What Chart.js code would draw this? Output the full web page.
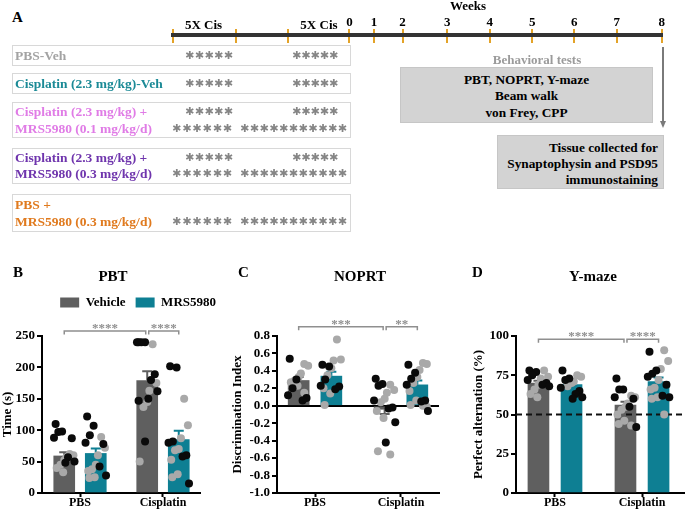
<!DOCTYPE html>
<html>
<head>
<meta charset="utf-8">
<script src="https://cdn.jsdelivr.net/npm/chart.js@4.4.0/dist/chart.umd.min.js"></script>
<style>
  html, body { margin: 0; padding: 0; background: #fff; }
  body { position: relative; width: 685px; height: 517px; overflow: hidden;
         font-family: 'Liberation Serif', 'Times New Roman', serif; font-weight: bold; color: #000; }
  .t { position: absolute; white-space: nowrap; height: 20px; line-height: 20px; font-size: 13.5px; z-index: 2; }
  .c { text-align: center; }
  .box { position: absolute; left: 12px; width: 339px; box-sizing: border-box; border: 1.5px solid #d8d8d8; }
  .stars { position: absolute; display: flex; justify-content: space-between; height: 20px; line-height: 20px;
           font-family: 'DejaVu Sans', sans-serif; font-size: 11px; color: #858585; font-weight: bold; }
  .grey { position: absolute; background: #d3d3d3; border: 1px solid #c6c6c6; box-sizing: border-box;
          font-size: 13.3px; white-space: nowrap; }
  canvas { position: absolute; }
</style>
</head>
<body>

<!-- Panel A: schematic -->
<div class="t" style="left:12px;top:7px;font-size:15px">A</div>
<div class="t c" style="left:418px;top:-4px;width:100px;font-size:13px">Weeks</div>
<canvas id="timeline" width="525" height="48" style="left:160px;top:0px"></canvas>

<div class="box" style="top:45px;height:21px"></div>
<div class="box" style="top:73px;height:21px"></div>
<div class="box" style="top:102px;height:36px"></div>
<div class="box" style="top:148px;height:36px"></div>
<div class="box" style="top:194px;height:38px"></div>

<div class="t" style="left:15px;top:45.5px;color:#a3a3a3">PBS-Veh</div>
<div class="t" style="left:15px;top:73.5px;color:#1b8a96">Cisplatin (2.3 mg/kg)-Veh</div>
<div class="t" style="left:15px;top:102px;color:#e07ce6">Cisplatin (2.3 mg/kg) +</div>
<div class="t" style="left:15px;top:119px;color:#e07ce6">MRS5980 (0.1 mg/kg/d)</div>
<div class="t" style="left:15px;top:148px;color:#6f35ad">Cisplatin (2.3 mg/kg) +</div>
<div class="t" style="left:15px;top:164px;color:#6f35ad">MRS5980 (0.3 mg/kg/d)</div>
<div class="t" style="left:15px;top:195px;color:#e07a1e">PBS +</div>
<div class="t" style="left:15px;top:212px;color:#e07a1e">MRS5980 (0.3 mg/kg/d)</div>

<div id="starRows"></div>

<div class="t c" style="left:487px;top:50px;width:100px;font-size:13px;color:#9b9b9b">Behavioral tests</div>
<div class="grey" style="left:400px;top:67px;width:253px;height:56px;text-align:center;line-height:16.5px;padding-top:3.5px">
  PBT, NOPRT, Y-maze<br>Beam walk<br>von Frey, CPP
</div>
<div class="grey" style="left:497px;top:135px;width:167px;height:54px;text-align:right;line-height:16px;padding-top:4px;padding-right:5px">
  Tissue collected for<br>Synaptophysin and PSD95<br>immunostaining
</div>
<div style="position:absolute;left:662px;top:47px;width:2px;height:75px;background:#7a7a7a"></div>
<div style="position:absolute;left:659.5px;top:121px;width:0;height:0;border-left:3.5px solid transparent;border-right:3.5px solid transparent;border-top:7px solid #7a7a7a"></div>

<!-- Panels B, C, D -->
<div class="t" style="left:13px;top:262px;font-size:15px">B</div>
<div class="t" style="left:238px;top:262px;font-size:15px">C</div>
<div class="t" style="left:472px;top:262px;font-size:15px">D</div>
<canvas id="pbt" width="226" height="267" style="left:0px;top:250px"></canvas>
<canvas id="noprt" width="260" height="267" style="left:230px;top:250px"></canvas>
<canvas id="ymaze" width="244" height="267" style="left:471px;top:250px"></canvas>

<script>
// ---- data ----
const groups = ['PBS', 'Cisplatin'];
const series = ['Vehicle', 'MRS5980'];

// timeline (schematic positions along the top axis)
const cisEdges = [-4.12, -2.65, -1.43];
const cisLabel = '5X Cis';
const cisLabelAt = [-3.40, -0.71];
const weekLabels = ['0', '1', '2', '3', '4', '5', '6', '7', '8'];
const weekAt = [0, 0.57, 1.24, 2.28, 3.27, 4.26, 5.24, 6.23, 7.28];

// PBT (time, s); point cells: PBS+Veh, PBS+MRS, Cis+Veh, Cis+MRS
const pbtVehicleMean = [59, 179];
const pbtVehicleSem = [6, 15];
const pbtMrsMean = [63, 85];
const pbtMrsSem = [8, 14];
const pbtBlack = [
  [110, 98, 97, 88, 87, 57, 50, 48],
  [122, 107, 92, 80, 78, 42, 28],
  [240, 240, 240, 240, 189, 180, 162, 150, 147, 82],
  [202, 200, 82, 80, 60, 58, 15]
];
const pbtGray = [
  [62, 60, 57, 52, 45, 40, 33],
  [89, 72, 60, 45, 38, 35, 25, 24],
  [237, 175, 163, 145, 137, 50],
  [150, 108, 87, 70, 68, 53, 30, 25]
];
const pbtStars = ['****', '****'];

// NOPRT (discrimination index)
const noprtVehicleMean = [0.29, -0.04];
const noprtVehicleSem = [0.04, 0.055];
const noprtMrsMean = [0.34, 0.24];
const noprtMrsSem = [0.05, 0.05];
const noprtBlack = [
  [0.54, 0.30, 0.20, 0.12, 0.09, 0.06],
  [0.47, 0.45, 0.30, 0.23, 0.22, 0.19],
  [0.31, 0.25, 0.23, 0.06, -0.02, -0.03, -0.19, -0.42],
  [0.47, 0.38, 0.31, 0.24, 0.06, 0.05, -0.06]
];
const noprtGray = [
  [0.48, 0.46, 0.37, 0.33, 0.29, 0.27, 0.23, 0.20, 0.15],
  [0.76, 0.53, 0.52, 0.43, 0.35, 0.20, 0.14, 0.01],
  [0.24, 0.18, 0.15, 0.08, 0.04, -0.06, -0.14, -0.52, -0.56],
  [0.49, 0.48, 0.41, 0.33, 0.26, 0.17, 0.06, 0.01, 0.0, -0.01]
];
const noprtStars = ['***', '**'];

// Y-maze (perfect alternation, %)
const ymazeVehicleMean = [70, 56];
const ymazeVehicleSem = [1.5, 2.2];
const ymazeMrsMean = [69, 71];
const ymazeMrsSem = [1.6, 2.6];
const ymazeChance = 50;
const ymazeBlack = [
  [78, 77, 75, 72, 70, 69, 68],
  [78, 73, 72, 67, 65, 63, 61, 60],
  [73, 66, 66, 61, 60, 55, 42],
  [90, 78, 76, 74, 69, 62, 61]
];
const ymazeGray = [
  [78, 74, 73, 69, 66, 63, 61],
  [75, 74, 71, 70, 68],
  [62, 61, 57, 55, 53, 50, 46, 44, 43],
  [91, 84, 79, 72, 67, 66, 61, 60, 50]
];
const ymazeStars = ['****', '****'];

// ---- styles / layout ----
const serif = "'Liberation Serif', 'Times New Roman', serif";
const vehicleColor = '#5f5f5f';
const mrsColor = '#0e7f93';
const blackDot = '#0a0a0a';
const grayDot = '#a9a9a9';
const tickOrange = '#e3a329';
const barShift = [-0.19, 0.19];
const jitter = [-0.8, 0.5, -0.2, 0.85, -0.55, 0.2, -0.95, 0.0, 0.7, -0.35, 0.35, -0.7, 0.95, -0.1, 0.1, -0.6];
const jitterWidth = 0.13;
const comparisons = [[[0, 0], [1, 0]], [[1, 0], [1, 1]]];

Chart.defaults.font.family = serif;
Chart.defaults.font.weight = 'bold';
Chart.defaults.color = '#000';
Chart.defaults.animation = false;

// asterisk rows in the treatment boxes
const starRows = [
  { y: 55.5, runs: [[185, 233, 5], [292, 338, 5]] },
  { y: 83.5, runs: [[185, 233, 5], [292, 338, 5]] },
  { y: 112, runs: [[185, 233, 5], [292, 338, 5]] },
  { y: 129, runs: [[172, 232, 6], [240, 347, 11]] },
  { y: 158, runs: [[185, 233, 5], [292, 338, 5]] },
  { y: 174, runs: [[172, 232, 6], [240, 347, 11]] },
  { y: 222, runs: [[172, 232, 6], [240, 347, 11]] }
];
const starHolder = document.getElementById('starRows');
starRows.forEach(row => {
  row.runs.forEach(run => {
    const div = document.createElement('div');
    div.className = 'stars';
    div.style.left = run[0] + 'px';
    div.style.width = (run[1] - run[0]) + 'px';
    div.style.top = (row.y - 10) + 'px';
    div.innerHTML = '<span>✱</span>'.repeat(run[2]);
    starHolder.appendChild(div);
  });
});

// timeline axis
const timelineTicks = []
  .concat(cisEdges.map(v => ({ value: v, label: '' })))
  .concat(weekAt.map((v, i) => ({ value: v, label: weekLabels[i] })))
  .sort((a, b) => a.value - b.value);

// "5X Cis" block labels, placed on the timeline scale a little lower than the week numbers
const cisLabels = {
  id: 'cisLabels',
  afterDraw(chart) {
    const x = chart.scales.x, ctx = chart.ctx;
    ctx.save();
    ctx.font = 'bold 13px ' + serif;
    ctx.fillStyle = '#000';
    ctx.textAlign = 'center';
    ctx.textBaseline = 'middle';
    cisLabelAt.forEach(v => ctx.fillText(cisLabel, x.getPixelForValue(v), 26));
    ctx.restore();
  }
};

new Chart(document.getElementById('timeline'), {
  type: 'scatter',
  data: { datasets: [] },
  options: {
    responsive: false,
    layout: { padding: { left: 12.7, right: 23.3, top: 0, bottom: 5 } },
    plugins: { legend: { display: false }, tooltip: { enabled: false } },
    scales: {
      x: {
        type: 'linear', position: 'top', bounds: 'data',
        min: cisEdges[0], max: weekAt[weekAt.length - 1],
        afterBuildTicks: s => { s.ticks = timelineTicks.map(t => ({ value: t.value })); },
        afterFit: s => { s.height = 35; },
        ticks: {
          autoSkip: false, maxRotation: 0, padding: 0, color: '#000',
          callback: (v, i) => timelineTicks[i].label,
          font: { size: 13, lineHeight: 1.0 }
        },
        grid: { color: tickOrange, tickColor: tickOrange, lineWidth: 2, tickWidth: 2, tickLength: 6 },
        border: { color: '#333', width: 4 }
      },
      y: { display: false, min: 0, max: 1 }
    }
  },
  plugins: [cisLabels]
});

// ---- bar panels ----
const errorBars = {
  id: 'errorBars',
  afterDatasetDraw(chart, args) {
    const ds = chart.data.datasets[args.index];
    if (!ds.sem) return;
    const y = chart.scales.y;
    const ctx = chart.ctx;
    ctx.save();
    ctx.strokeStyle = ds.backgroundColor;
    ctx.lineWidth = 2;
    args.meta.data.forEach((bar, i) => {
      const m = ds.data[i].y;
      const dir = m < 0 ? -1 : 1;
      const y0 = y.getPixelForValue(m);
      const y1 = y.getPixelForValue(m + dir * ds.sem[i]);
      ctx.beginPath();
      ctx.moveTo(bar.x, y0); ctx.lineTo(bar.x, y1);
      ctx.moveTo(bar.x - 5, y1); ctx.lineTo(bar.x + 5, y1);
      ctx.stroke();
    });
    ctx.restore();
  }
};

const sigBrackets = {
  id: 'sigBrackets',
  afterDraw(chart, args, opts) {
    if (!opts.labels) return;
    const x = chart.scales.x, y = chart.scales.y, ctx = chart.ctx;
    const yp = y.getPixelForValue(opts.level);
    ctx.save();
    ctx.strokeStyle = '#8f8f8f';
    ctx.fillStyle = '#8f8f8f';
    ctx.lineWidth = 1.5;
    ctx.font = 'bold 13px ' + serif;
    ctx.textAlign = 'center';
    ctx.textBaseline = 'alphabetic';
    comparisons.forEach((pair, k) => {
      let x1 = x.getPixelForValue(pair[0][0] + barShift[pair[0][1]]);
      let x2 = x.getPixelForValue(pair[1][0] + barShift[pair[1][1]]);
      if (k === 0) x2 -= 1.5; else x1 += 1.5;
      ctx.beginPath();
      ctx.moveTo(x1, yp + 3.5); ctx.lineTo(x1, yp); ctx.lineTo(x2, yp); ctx.lineTo(x2, yp + 3.5);
      ctx.stroke();
      ctx.fillText(opts.labels[k], (x1 + x2) / 2, yp + 1);
    });
    ctx.restore();
  }
};

function dotSet(cells, color, phase) {
  const data = [];
  cells.forEach((vals, c) => {
    const g = Math.floor(c / 2), s = c % 2;
    vals.forEach((v, i) => {
      data.push({ x: g + barShift[s] + jitter[(2 * i + phase) % jitter.length] * jitterWidth, y: v });
    });
  });
  return { type: 'scatter', label: '', data, backgroundColor: color, borderWidth: 0,
           pointRadius: 4, pointHoverRadius: 4, order: 1, clip: false };
}

function barSet(s, means, sems, color) {
  return { type: 'bar', label: series[s], data: means.map((m, g) => ({ x: g + barShift[s], y: m })),
           sem: sems, backgroundColor: color, borderWidth: 0, barThickness: 21, grouped: false, order: 3 };
}

function buildPanel(id, cfg) {
  const datasets = [
    barSet(0, cfg.vehicleMean, cfg.vehicleSem, vehicleColor),
    barSet(1, cfg.mrsMean, cfg.mrsSem, mrsColor)
  ];
  if (cfg.chance !== undefined) {
    datasets.push({ type: 'line', label: '', data: [{ x: cfg.xMin, y: cfg.chance }, { x: cfg.xMax + 0.4, y: cfg.chance }],
                    borderColor: '#111', borderWidth: 2, borderDash: [6, 4], pointRadius: 0, order: 2, clip: false });
  }
  datasets.push(dotSet(cfg.black, blackDot, 0), dotSet(cfg.gray, grayDot, 1));

  new Chart(document.getElementById(id), {
    type: 'bar',
    data: { datasets },
    options: {
      responsive: false,
      layout: { padding: 0 },
      plugins: {
        title: { display: true, text: cfg.title, font: { size: 15 }, color: '#000',
                 padding: { top: 18, bottom: cfg.legend ? 0 : 50 } },
        legend: cfg.legend ? {
          display: true, position: 'top', fullSize: true, align: 'end',
          labels: { boxWidth: 19, boxHeight: 10, padding: 10, font: { size: 13 }, color: '#000',
                    filter: item => item.datasetIndex < 2 }
        } : { display: false },
        subtitle: { display: !!cfg.legend, text: ' ', weight: 500, font: { size: 10 }, padding: { top: 5, bottom: 0 } },
        tooltip: { enabled: false },
        sigBrackets: { level: cfg.sigLevel, labels: cfg.stars }
      },
      scales: {
        x: {
          type: 'linear', bounds: 'data', offset: false, min: cfg.xMin, max: cfg.xMax,
          afterBuildTicks: s => { s.ticks = groups.map((g, i) => ({ value: i })); },
          afterFit: s => { s.height = 24; },
          ticks: { autoSkip: false, maxRotation: 0, padding: 0, color: '#000',
                   font: { size: 12, lineHeight: 1 }, callback: v => groups[v] },
          grid: { drawOnChartArea: false, offset: false, tickLength: 4, tickColor: '#000', tickWidth: 2 },
          border: { color: '#000', width: 2 }
        },
        y: {
          min: cfg.yMin, max: cfg.yMax,
          afterFit: s => { s.width = cfg.yWidth; },
          ticks: { stepSize: cfg.step, autoSkip: false, padding: 2, color: '#000', font: { size: 13 },
                   callback: cfg.tickFmt || (v => v) },
          grid: {
            drawOnChartArea: !!cfg.zeroLine,
            color: ctx => (cfg.zeroLine && Math.abs(ctx.tick.value) < 1e-9) ? '#000' : 'rgba(0,0,0,0)',
            lineWidth: 2, tickLength: 5, tickColor: '#000', tickWidth: 2
          },
          border: { color: '#000', width: 2 },
          title: { display: true, text: cfg.yTitle, font: { size: 13 }, color: '#000', padding: 0 }
        },
        // empty right-hand box: keeps the plot narrower than the canvas so titles centre like the figure
        gutter: {
          type: 'linear', axis: 'y', position: 'right', display: true,
          ticks: { display: false }, grid: { display: false }, border: { display: false },
          afterFit: s => { s.width = cfg.gutter; }
        }
      }
    },
    plugins: [errorBars, sigBrackets]
  });
}

buildPanel('pbt', {
  title: 'PBT', legend: true, yTitle: 'Time (s)',
  vehicleMean: pbtVehicleMean, vehicleSem: pbtVehicleSem, mrsMean: pbtMrsMean, mrsSem: pbtMrsSem,
  black: pbtBlack, gray: pbtGray, stars: pbtStars, sigLevel: 258,
  yMin: 0, yMax: 250, step: 50, xMin: -0.458, xMax: 1.446, yWidth: 42, gutter: 26
});

buildPanel('noprt', {
  title: 'NOPRT', legend: false, yTitle: 'Discrimination Index', zeroLine: true,
  vehicleMean: noprtVehicleMean, vehicleSem: noprtVehicleSem, mrsMean: noprtMrsMean, mrsSem: noprtMrsSem,
  black: noprtBlack, gray: noprtGray, stars: noprtStars, sigLevel: 0.905,
  yMin: -1, yMax: 0.8, step: 0.2, tickFmt: v => v.toFixed(1),
  xMin: -0.442, xMax: 1.442, yWidth: 47, gutter: 51
});

buildPanel('ymaze', {
  title: 'Y-maze', legend: false, yTitle: 'Perfect alternation (%)', chance: ymazeChance,
  vehicleMean: ymazeVehicleMean, vehicleSem: ymazeVehicleSem, mrsMean: ymazeMrsMean, mrsSem: ymazeMrsSem,
  black: ymazeBlack, gray: ymazeGray, stars: ymazeStars, sigLevel: 98,
  yMin: 0, yMax: 100, step: 25, xMin: -0.448, xMax: 1.494, yWidth: 45, gutter: 30
});
</script>
</body>
</html>
